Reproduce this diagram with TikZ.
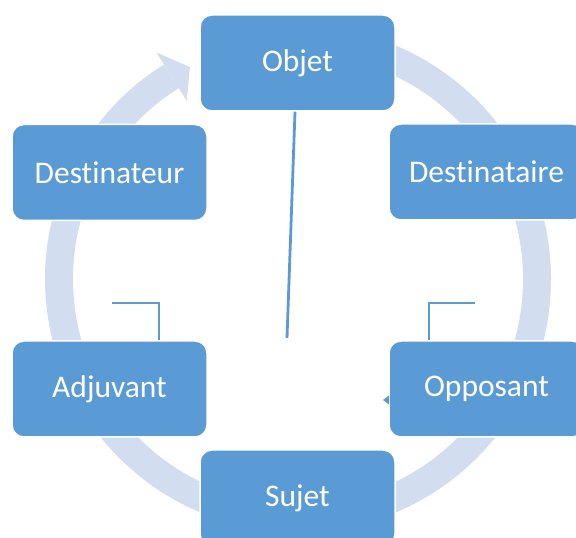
\documentclass[tikz,border=0pt]{standalone}
\usepackage{fontspec}
\setmainfont{Carlito}[Ligatures = NoCommon]
\usepackage{tikz}
\usetikzlibrary{arrows.meta,calc}
\definecolor{boxblue}{RGB}{91,155,213}
\definecolor{ringblue}{RGB}{210,222,239}
\tikzset{
	box/.style = { rectangle, rounded corners = 12pt, fill = boxblue,
		draw = white, line width = 1.5pt, minimum width = 195pt,
		minimum height = 96pt, inner sep = 2pt, text = white,
		font = \fontsize{31.5}{36}\selectfont },
	ring/.style = { ringblue, line width = 28pt },
	link/.style = { boxblue, line width = 2.8pt }
}
\begin{document}
\begin{tikzpicture}[ x = 1pt, y = 1pt ]
	\useasboundingbox (0,0) rectangle (576,538);
	% circular arrow behind the boxes
	\coordinate (c) at (298,259);
	\draw [ ring ] (c) ++(95:239) 
	arc [ start angle = 95, end angle = -238, radius = 239 ];
	\fill [ ringblue ] 
	($ (c) + (122:267) $) -- ($ (c) + (117:238) $) 
	-- ($ (c) + (122:210) $) -- cycle;
	\node [ box ] (1) at (297.5,475) 
	{ Objet };
	\node [ box ] (2) at (486.5,366) 
	{ Destinataire };
	\node [ box ] (3) at (109.5,365.5) 
	{ Destinateur };
	\node [ box ] (4) at (109.5,149) 
	{ Adjuvant };
	\node [ box ] (5) at (486.5,149) 
	{ Opposant };
	\node [ box ] (6) at (297.5,40) 
	{ Sujet };
	\coordinate (m) at (287,200);
	\coordinate (l) at (112,235);
	\coordinate (r) at (475,235);
	\coordinate (t) at (383,138);
	\draw [ link ] ([ xshift = -2.5pt ] 1.south) to (m);
	\draw [ link ] (l) -| ([ xshift = 49.5pt ] 4.north);
	\draw [ link ] (r) -| ([ xshift = -57.5pt ] 5.north);
	\draw [ link, line width = 0.8pt, 
	-{ Triangle [ length = 6pt, width = 9pt ] } ] (5.west |- t) to (t);
\end{tikzpicture}
\end{document}
